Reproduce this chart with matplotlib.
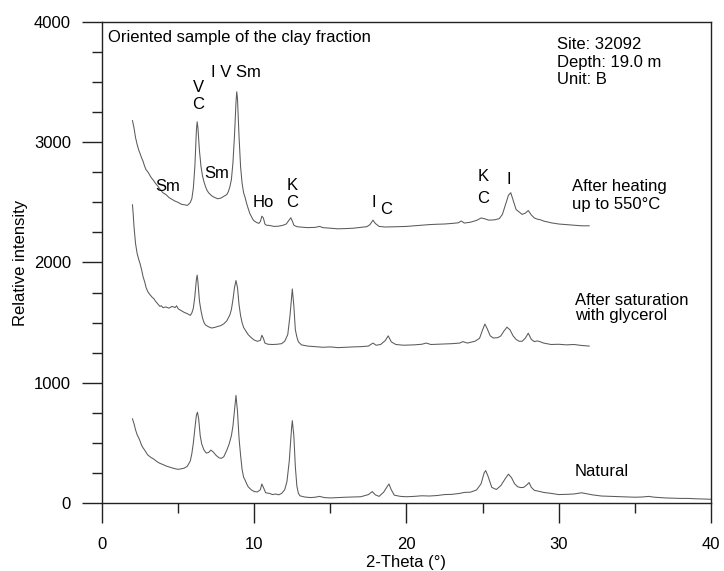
import numpy as np
import matplotlib.pyplot as plt
from matplotlib.ticker import MultipleLocator

plt.rcParams['font.family'] = ['Liberation Sans', 'DejaVu Sans']

# traces: (2-theta, counts)
heating = [
    (2.0, 3180), (2.1, 3120), (2.2, 3040), (2.3, 2985), (2.4, 2940), (2.5, 2905),
    (2.6, 2870), (2.7, 2840), (2.8, 2800), (2.9, 2770), (3.0, 2755), (3.1, 2735),
    (3.2, 2712), (3.3, 2695), (3.4, 2680), (3.5, 2660), (3.6, 2645), (3.7, 2630),
    (3.8, 2610), (3.9, 2595), (4.0, 2580), (4.2, 2565), (4.4, 2540), (4.6, 2525),
    (4.8, 2510), (5.0, 2500), (5.2, 2485), (5.4, 2480), (5.6, 2475), (5.7, 2485),
    (5.8, 2500), (5.9, 2530), (6.0, 2620), (6.1, 2800), (6.2, 3100), (6.25, 3170),
    (6.3, 3120), (6.4, 2930), (6.5, 2800), (6.6, 2720), (6.7, 2670), (6.8, 2630),
    (6.9, 2600), (7.0, 2580), (7.2, 2555), (7.4, 2540), (7.6, 2530), (7.8, 2535),
    (8.0, 2550), (8.2, 2565), (8.3, 2590), (8.4, 2630), (8.5, 2690), (8.6, 2830),
    (8.7, 3050), (8.8, 3330), (8.85, 3420), (8.9, 3360), (9.0, 3050), (9.1, 2800),
    (9.2, 2660), (9.3, 2580), (9.4, 2540), (9.5, 2490), (9.6, 2450), (9.7, 2410),
    (9.8, 2385), (9.9, 2360), (10.0, 2345), (10.2, 2330), (10.3, 2325), (10.4, 2340),
    (10.5, 2385), (10.6, 2370), (10.7, 2320), (10.8, 2310), (11.0, 2308), (11.3, 2300),
    (11.6, 2302), (11.9, 2310), (12.1, 2320), (12.3, 2355), (12.4, 2372), (12.5, 2345),
    (12.6, 2310), (12.8, 2298), (13.0, 2295), (13.5, 2290), (14.0, 2292), (14.3, 2300),
    (14.5, 2290), (15.0, 2285), (15.5, 2280), (16.0, 2282), (16.5, 2285), (17.0, 2292),
    (17.4, 2298), (17.6, 2315), (17.8, 2352), (17.95, 2325), (18.2, 2300), (18.6, 2295),
    (19.0, 2296), (19.5, 2298), (20.0, 2300), (20.5, 2305), (21.0, 2310), (21.5, 2315),
    (22.0, 2318), (22.5, 2320), (23.0, 2325), (23.4, 2330), (23.6, 2345), (23.8, 2328),
    (24.2, 2335), (24.6, 2350), (24.9, 2370), (25.1, 2365), (25.4, 2352), (25.8, 2355),
    (26.1, 2365), (26.3, 2400), (26.5, 2480), (26.7, 2560), (26.85, 2580), (27.0, 2520),
    (27.2, 2440), (27.4, 2420), (27.6, 2400), (27.8, 2410), (28.0, 2432), (28.2, 2395),
    (28.4, 2370), (28.6, 2360), (28.8, 2355), (29.0, 2345), (29.5, 2330), (30.0, 2320),
    (30.5, 2315), (31.0, 2310), (31.5, 2305), (32.0, 2305),
]

glycerol = [
    (2.0, 2480), (2.05, 2400), (2.1, 2300), (2.2, 2160), (2.3, 2080), (2.4, 2030),
    (2.5, 1990), (2.6, 1940), (2.7, 1880), (2.8, 1840), (2.9, 1790), (3.0, 1760),
    (3.1, 1740), (3.2, 1725), (3.3, 1710), (3.4, 1700), (3.5, 1680), (3.6, 1665),
    (3.7, 1650), (3.8, 1635), (3.9, 1640), (4.0, 1625), (4.2, 1630), (4.4, 1620),
    (4.6, 1635), (4.8, 1625), (4.9, 1640), (5.0, 1615), (5.2, 1600), (5.4, 1585),
    (5.6, 1575), (5.8, 1560), (5.9, 1580), (6.0, 1620), (6.1, 1720), (6.2, 1860),
    (6.25, 1895), (6.3, 1840), (6.4, 1680), (6.5, 1600), (6.6, 1540), (6.7, 1500),
    (6.8, 1480), (7.0, 1465), (7.2, 1455), (7.4, 1460), (7.6, 1468), (7.8, 1475),
    (8.0, 1490), (8.2, 1515), (8.3, 1540), (8.4, 1565), (8.5, 1610), (8.6, 1690),
    (8.7, 1790), (8.8, 1850), (8.9, 1790), (9.0, 1650), (9.1, 1560), (9.2, 1500),
    (9.3, 1460), (9.4, 1440), (9.6, 1400), (9.8, 1375), (10.0, 1355), (10.2, 1345),
    (10.4, 1352), (10.5, 1395), (10.6, 1370), (10.7, 1330), (10.9, 1320), (11.2, 1318),
    (11.5, 1320), (11.8, 1325), (12.0, 1345), (12.2, 1400), (12.35, 1560), (12.5, 1780),
    (12.6, 1640), (12.7, 1440), (12.8, 1380), (12.9, 1340), (13.1, 1315), (13.5, 1305),
    (14.0, 1300), (14.5, 1295), (15.0, 1298), (15.5, 1292), (16.0, 1295), (16.5, 1298),
    (17.0, 1300), (17.5, 1305), (17.8, 1330), (18.0, 1312), (18.3, 1318), (18.6, 1350),
    (18.8, 1390), (19.0, 1340), (19.3, 1318), (19.8, 1312), (20.5, 1315), (21.0, 1320),
    (21.3, 1330), (21.6, 1318), (22.0, 1320), (22.5, 1322), (23.0, 1325), (23.5, 1330),
    (23.7, 1342), (24.0, 1330), (24.5, 1345), (24.8, 1370), (25.0, 1440), (25.15, 1488),
    (25.3, 1450), (25.5, 1390), (25.7, 1372), (26.0, 1375), (26.2, 1390), (26.4, 1430),
    (26.6, 1462), (26.8, 1440), (27.0, 1390), (27.2, 1360), (27.4, 1345), (27.6, 1345),
    (27.8, 1370), (28.0, 1412), (28.2, 1360), (28.4, 1342), (28.6, 1348), (28.8, 1340),
    (29.0, 1330), (29.5, 1318), (30.0, 1320), (30.5, 1315), (31.0, 1318), (31.5, 1310),
    (32.0, 1305),
]

natural = [
    (2.0, 700), (2.1, 660), (2.2, 610), (2.3, 570), (2.4, 545), (2.5, 515),
    (2.6, 480), (2.7, 458), (2.8, 440), (2.9, 420), (3.0, 400), (3.2, 380),
    (3.4, 365), (3.6, 345), (3.8, 330), (4.0, 320), (4.2, 308), (4.4, 300),
    (4.6, 292), (4.8, 285), (5.0, 280), (5.2, 284), (5.4, 290), (5.6, 305),
    (5.8, 350), (5.9, 410), (6.0, 500), (6.1, 620), (6.2, 730), (6.27, 755),
    (6.35, 700), (6.45, 560), (6.55, 490), (6.7, 440), (6.85, 415), (7.0, 420),
    (7.15, 440), (7.3, 425), (7.5, 395), (7.7, 375), (7.85, 372), (8.0, 385),
    (8.2, 440), (8.35, 490), (8.5, 560), (8.6, 640), (8.7, 770), (8.8, 895),
    (8.9, 760), (9.0, 540), (9.1, 400), (9.2, 280), (9.3, 215), (9.4, 190),
    (9.5, 160), (9.6, 135), (9.8, 110), (10.0, 95), (10.2, 92), (10.4, 110),
    (10.5, 158), (10.6, 130), (10.75, 85), (11.0, 80), (11.2, 70), (11.4, 75),
    (11.6, 68), (11.8, 80), (12.0, 110), (12.15, 180), (12.3, 350), (12.45, 620),
    (12.5, 685), (12.6, 560), (12.7, 300), (12.8, 140), (12.9, 80), (13.0, 60),
    (13.3, 50), (13.7, 45), (14.0, 48), (14.3, 55), (14.6, 45), (15.0, 42),
    (15.5, 45), (16.0, 48), (16.5, 50), (17.0, 52), (17.5, 70), (17.75, 95),
    (17.95, 68), (18.2, 55), (18.5, 90), (18.75, 140), (18.85, 158), (19.0, 110),
    (19.2, 65), (19.6, 55), (20.0, 52), (20.5, 55), (21.0, 60), (21.5, 58),
    (22.0, 62), (22.5, 70), (23.0, 72), (23.5, 80), (23.8, 88), (24.2, 90),
    (24.6, 108), (24.9, 160), (25.1, 250), (25.2, 270), (25.35, 225), (25.6, 130),
    (25.9, 112), (26.2, 145), (26.5, 205), (26.7, 240), (26.9, 210), (27.1, 160),
    (27.3, 135), (27.5, 128), (27.7, 130), (27.9, 150), (28.05, 170), (28.2, 130),
    (28.4, 105), (28.6, 100), (29.0, 88), (29.5, 80), (30.0, 70), (30.5, 72),
    (31.0, 75), (31.5, 85), (31.8, 78), (32.2, 68), (32.8, 58), (33.5, 55),
    (34.0, 52), (34.5, 50), (35.0, 48), (35.5, 50), (35.9, 55), (36.3, 48),
    (37.0, 42), (37.5, 40), (38.0, 38), (38.5, 38), (39.0, 35), (39.5, 33),
    (40.0, 31),
]

# peak labels: (text, 2-theta, counts)
peak_labels = [
    ("V", 6.31, 3459), ("C", 6.31, 3310), ("I V Sm", 8.80, 3576),
    ("Sm", 4.34, 2628), ("Sm", 7.55, 2744), ("Ho", 10.57, 2495),
    ("K", 12.48, 2644), ("C", 12.48, 2495), ("I", 17.87, 2503), ("C", 18.65, 2437),
    ("K", 25.02, 2719), ("C", 25.02, 2528), ("I", 26.73, 2686),
]

fig = plt.figure(figsize=(7.24, 5.71), dpi=100)
ax = fig.add_axes([0.1409, 0.1191, 0.8411, 0.8424])

for trace in (heating, glycerol, natural):
    tx, ty = zip(*trace)
    ax.plot(tx, ty, color='#5a5a5a', lw=0.75)

ax.set_xlim(0, 40)
ax.set_ylim(0, 4000)
ax.xaxis.set_major_locator(MultipleLocator(10))
ax.xaxis.set_minor_locator(MultipleLocator(5))
ax.yaxis.set_major_locator(MultipleLocator(1000))
ax.yaxis.set_minor_locator(MultipleLocator(250))
ax.tick_params(which='major', direction='out', length=14.4, width=1.0, labelsize=12, color='#222222')
ax.tick_params(axis='x', which='major', pad=10)
ax.tick_params(axis='y', which='major', pad=8)
ax.tick_params(which='minor', direction='out', length=7.2, width=1.0, color='#222222')
for s in ax.spines.values():
    s.set_linewidth(1.0)
    s.set_color('#222222')

ax.set_xlabel('2-Theta (°)', fontsize=12, va='center')
ax.xaxis.set_label_coords(0.5, -0.1227)
ax.set_ylabel('Relative intensity', fontsize=12, labelpad=4)

ax.text(0.39, 3867, 'Oriented sample of the clay fraction', fontsize=12, va='center')
ax.text(29.9, 3809, 'Site: 32092', fontsize=12, va='center')
ax.text(29.9, 3659, 'Depth: 19.0 m', fontsize=12, va='center')
ax.text(29.9, 3518, 'Unit: B', fontsize=12, va='center')

for label, lx, ly in peak_labels:
    ax.text(lx, ly, label, fontsize=12, ha='center', va='center')

ax.text(30.87, 2636, 'After heating', fontsize=12, va='center')
ax.text(30.87, 2486, 'up to 550°C', fontsize=12, va='center')
ax.text(31.07, 1688, 'After saturation', fontsize=12, va='center')
ax.text(31.07, 1563, 'with glycerol', fontsize=12, va='center')
ax.text(31.07, 258, 'Natural', fontsize=12, va='center')

fig.savefig('out.png', dpi=100)
